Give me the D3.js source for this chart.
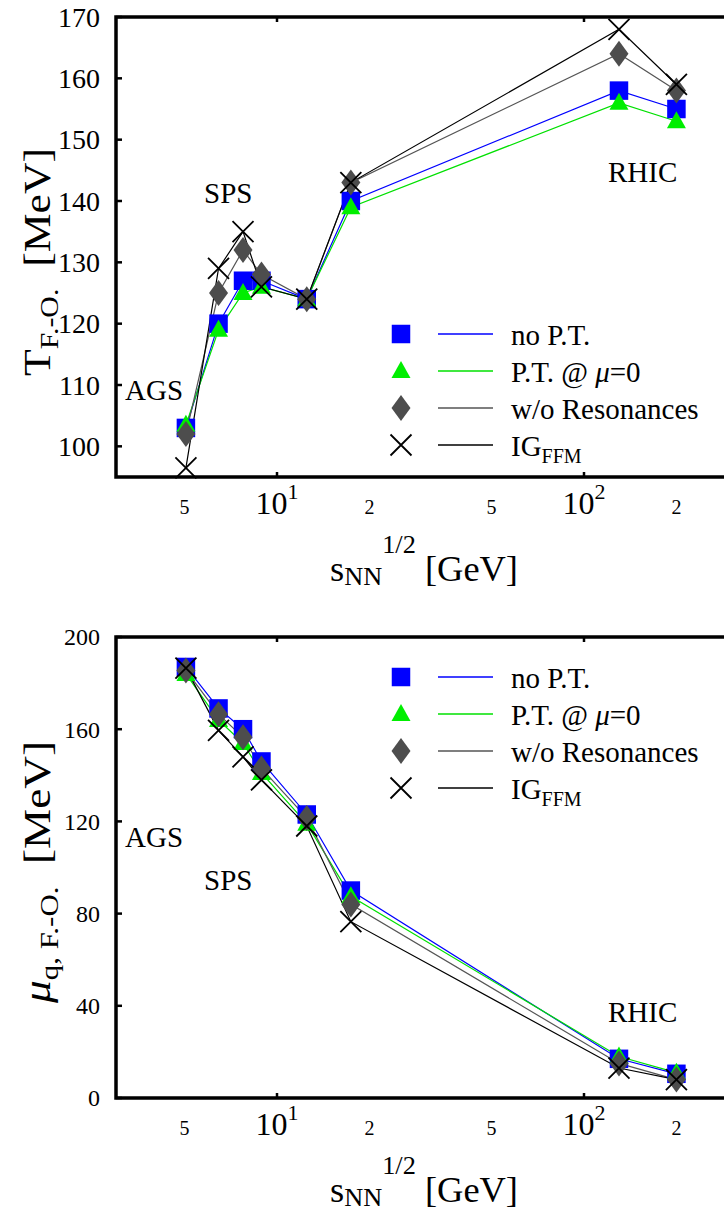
<!DOCTYPE html>
<html>
<head>
<meta charset="utf-8">
<script src="https://cdn.jsdelivr.net/npm/d3@7"></script>
<style>
  html, body { margin: 0; padding: 0; background: #fff; }
</style>
</head>
<body>
<svg id="chart" width="724" height="1211"></svg>
<script>
// ---------------- data ----------------
const energies = [5.05, 6.45, 7.75, 8.9, 12.5, 17.4, 130, 200];   // sqrt(s_NN) [GeV]

const T_noPT   = [103, 120, 127, 127, 124, 140, 158, 155];
const T_PT     = [103.5, 119, 125, 126, 124, 139, 156, 153];
const T_woRes  = [102, 125, 132, 128, 124, 143, 164, 158];
const T_IG     = [96.5, 129, 135, 126, 124, 143, 168, 159];

const mu_noPT  = [187, 169, 160, 146, 123, 90, 17, 10.5];
const mu_PT    = [184, 164, 154, 141, 119, 87.5, 18, 11];
const mu_woRes = [185.5, 166.5, 156.5, 143, 121.5, 84, 15, 8];
const mu_IG    = [186.5, 159.5, 148, 138, 118, 76.5, 13, 8];

const seriesNames  = ["no P.T.", "P.T. @ \u03bc=0", "w/o Resonances", "IG_FFM"];
const seriesColors = ["#0000ff", "#00ee00", "#4d4d4d", "#000000"];
const lineColors   = ["#0000ff", "#00e000", "#555555", "#000000"];
const markerTypes  = ["square", "triangle", "diamond", "cross"];

const xTickVals   = [5, 10, 20, 50, 100, 200];
const xTickMain   = ["5", "10", "2", "5", "10", "2"];
const xTickSup    = ["", "1", "", "", "2", ""];
const T_ticks     = [100, 110, 120, 130, 140, 150, 160, 170];
const mu_ticks    = [0, 40, 80, 120, 160, 200];

// ---------------- layout ----------------
const FONT = "Liberation Serif";
const svg = d3.select("#chart");
svg.append("rect").attr("width", 724).attr("height", 1211).attr("fill", "#fff");

const frameLeft = 116, frameRight = 760;
const x = d3.scaleLog().domain([10, 100]).range([277, 584]);

function txt(g) { return g.append("text").attr("font-family", FONT).attr("fill", "#000"); }

function marker(g, type, cx, cy, color) {
  if (type === "square") {
    g.append("rect").attr("x", cx - 9.25).attr("y", cy - 9.25).attr("width", 18.5).attr("height", 18.5).attr("fill", color);
  } else if (type === "triangle") {
    g.append("path").attr("d", `M${cx},${cy - 10} L${cx + 9.5},${cy + 7} L${cx - 9.5},${cy + 7} Z`).attr("fill", color);
  } else if (type === "diamond") {
    g.append("path").attr("d", `M${cx},${cy - 13} L${cx + 9.5},${cy} L${cx},${cy + 13} L${cx - 9.5},${cy} Z`).attr("fill", color);
  } else {
    g.append("path").attr("d", `M${cx - 10.5},${cy - 10.5} L${cx + 10.5},${cy + 10.5} M${cx - 10.5},${cy + 10.5} L${cx + 10.5},${cy - 10.5}`)
      .attr("stroke", color).attr("stroke-width", 1.8).attr("fill", "none");
  }
}

function panel(opts) {
  const { y, data, yTicks, tickFont, annotations, legendY, titleY, titleLen, axisTitle } = opts;
  const top = y.range()[1], bottom = y.range()[0];
  const g = svg.append("g");

  // series lines
  data.forEach((vals, i) => {
    const line = d3.line().x((d, k) => x(energies[k])).y(d => y(d));
    g.append("path").datum(vals).attr("d", line).attr("fill", "none")
      .attr("stroke", lineColors[i]).attr("stroke-width", 1.2);
  });
  // markers
  data.forEach((vals, i) => {
    vals.forEach((v, k) => marker(g, markerTypes[i], x(energies[k]), y(v), seriesColors[i]));
  });

  // frame
  g.append("path").attr("d", `M${frameRight},${top} L${frameLeft},${top} L${frameLeft},${bottom} L${frameRight},${bottom}`)
    .attr("fill", "none").attr("stroke", "#000").attr("stroke-width", 3.5);

  // y ticks
  yTicks.forEach(t => {
    g.append("line").attr("x1", frameLeft).attr("x2", frameLeft + 6).attr("y1", y(t)).attr("y2", y(t))
      .attr("stroke", "#000").attr("stroke-width", 2.5);
    txt(g).attr("x", 100).attr("y", y(t)).attr("dy", "0.35em").attr("text-anchor", "end")
      .attr("font-size", tickFont).text(t);
  });
  // x ticks (decades) on top and bottom
  [10, 100].forEach(t => {
    g.append("line").attr("x1", x(t)).attr("x2", x(t)).attr("y1", top).attr("y2", top + 5).attr("stroke", "#000").attr("stroke-width", 2.5);
    g.append("line").attr("x1", x(t)).attr("x2", x(t)).attr("y1", bottom).attr("y2", bottom - 5).attr("stroke", "#000").attr("stroke-width", 2.5);
  });
  xTickVals.forEach((t, i) => {
    const tt = txt(g).attr("x", x(t)).attr("y", bottom + 37).attr("text-anchor", "middle");
    if (xTickSup[i]) {
      tt.append("tspan").attr("font-size", 32).text(xTickMain[i]);
      tt.append("tspan").attr("font-size", 22).attr("dy", -15).text(xTickSup[i]);
    } else {
      tt.attr("font-size", 20).text(xTickMain[i]);
    }
  });

  // x axis title
  const xt = txt(g).attr("x", 330).attr("y", bottom + 104).attr("font-size", 36)
    .attr("textLength", 188).attr("lengthAdjust", "spacingAndGlyphs");
  xt.append("tspan").text("s");
  xt.append("tspan").attr("font-size", 26).attr("dy", 4).text("NN");
  xt.append("tspan").attr("font-size", 26).attr("dy", -32).text("1/2");
  xt.append("tspan").attr("dy", 28).text(" [GeV]");

  // y axis title
  const yt = txt(g).attr("transform", `translate(50,${titleY}) rotate(-90)`)
    .attr("text-anchor", "middle").attr("font-size", 38)
    .attr("textLength", titleLen).attr("lengthAdjust", "spacingAndGlyphs");
  axisTitle(yt);

  // annotations
  annotations.forEach(a => {
    txt(g).attr("x", a.x).attr("y", a.y).attr("font-size", 29).text(a.t);
  });

  // legend
  seriesNames.forEach((name, i) => {
    const cy = legendY + 37 * i;
    marker(g, markerTypes[i], 401, cy, seriesColors[i]);
    g.append("line").attr("x1", 438).attr("x2", 493).attr("y1", cy).attr("y2", cy)
      .attr("stroke", lineColors[i]).attr("stroke-width", 1.3);
    const t = txt(g).attr("x", 511).attr("y", cy + 11).attr("font-size", 29);
    if (i === 1) {
      t.append("tspan").text("P.T. @ ");
      t.append("tspan").attr("font-style", "italic").text("\u03bc");
      t.append("tspan").text("=0");
    } else if (i === 3) {
      t.append("tspan").text("IG");
      t.append("tspan").attr("font-size", 20).attr("dy", 7).text("FFM");
    } else {
      t.text(name);
    }
  });
}

// top panel: freeze-out temperature
panel({
  y: d3.scaleLinear().domain([95, 170]).range([477, 17]),
  data: [T_noPT, T_PT, T_woRes, T_IG],
  yTicks: T_ticks,
  tickFont: 28,
  titleY: 262,
  titleLen: 228,
  legendY: 334,
  annotations: [{ t: "AGS", x: 125, y: 400 }, { t: "SPS", x: 204, y: 203 }, { t: "RHIC", x: 608, y: 182 }],
  axisTitle: yt => {
    yt.append("tspan").text("T");
    yt.append("tspan").attr("font-size", 26).attr("dy", 8).text("F.-O.");
    yt.append("tspan").attr("dy", -8).text("\u00a0 [MeV]");
  }
});

// bottom panel: quark chemical potential
panel({
  y: d3.scaleLinear().domain([0, 200]).range([1098, 637]),
  data: [mu_noPT, mu_PT, mu_woRes, mu_IG],
  yTicks: mu_ticks,
  tickFont: 24,
  titleY: 872,
  titleLen: 262,
  legendY: 677,
  annotations: [{ t: "AGS", x: 125, y: 847 }, { t: "SPS", x: 204, y: 890 }, { t: "RHIC", x: 608, y: 1022 }],
  axisTitle: yt => {
    yt.append("tspan").attr("font-style", "italic").text("\u03bc");
    yt.append("tspan").attr("font-size", 26).attr("dy", 8).text("q, F.-O.");
    yt.append("tspan").attr("dy", -8).text("\u00a0 [MeV]");
  }
});
</script>
</body>
</html>
